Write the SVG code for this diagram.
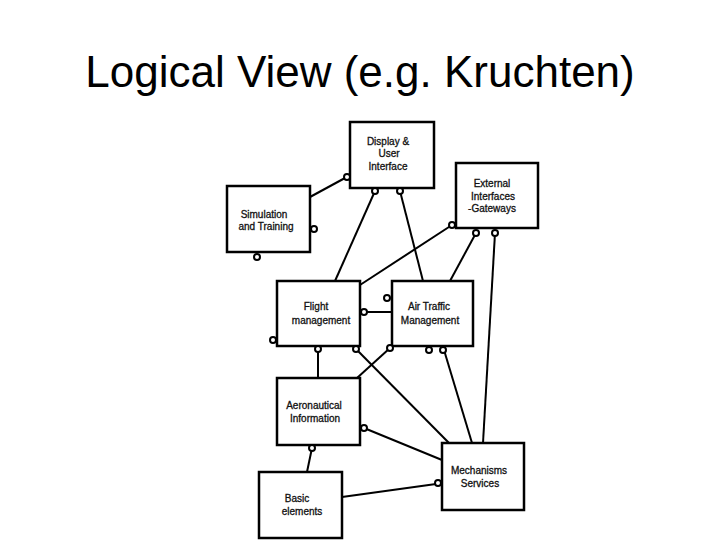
<svg xmlns="http://www.w3.org/2000/svg" width="720" height="540" viewBox="0 0 720 540">
<style>
.box{fill:#fff;stroke:#000;stroke-width:2.5}
.ln{stroke:#000;stroke-width:2;fill:none}
.pt{fill:#fff;stroke:#000;stroke-width:2}
.lbl{font-family:"Liberation Sans",Arial,sans-serif;font-size:10px;fill:#111;stroke:#111;stroke-width:0.3;text-anchor:middle}
.title{font-family:"Liberation Sans",Arial,sans-serif;font-size:44px;fill:#000;text-anchor:middle}
</style>
<rect width="720" height="540" fill="#fff"/>
<text class="title" x="360" y="87">Logical View (e.g. Kruchten)</text>
<g id="connectors">
<line class="ln" x1="310" y1="197" x2="345" y2="178"/>
<line class="ln" x1="375" y1="191" x2="335" y2="281"/>
<line class="ln" x1="400" y1="191" x2="423" y2="281"/>
<line class="ln" x1="452" y1="225" x2="360" y2="285"/>
<line class="ln" x1="476" y1="233" x2="450" y2="281"/>
<line class="ln" x1="495" y1="233" x2="483" y2="443"/>
<line class="ln" x1="364" y1="312" x2="392" y2="312"/>
<line class="ln" x1="318" y1="349" x2="318" y2="378"/>
<line class="ln" x1="356" y1="349" x2="449" y2="443"/>
<line class="ln" x1="390" y1="348" x2="357" y2="378"/>
<line class="ln" x1="444" y1="350" x2="472" y2="443"/>
<line class="ln" x1="364" y1="428" x2="442" y2="460"/>
<line class="ln" x1="312" y1="448" x2="307" y2="472"/>
<line class="ln" x1="342" y1="497" x2="436" y2="484"/>
</g>
<g id="display">
<rect class="box" x="350" y="122" width="84" height="66"/>
<text class="lbl" x="388" y="145">Display &amp;</text>
<text class="lbl" x="389" y="157">User</text>
<text class="lbl" x="388" y="170">Interface</text>
<circle class="pt" cx="347" cy="177" r="3"/>
<circle class="pt" cx="375" cy="191" r="3"/>
<circle class="pt" cx="400" cy="191" r="3"/>
</g>
<g id="external">
<rect class="box" x="456" y="163" width="82" height="65"/>
<text class="lbl" x="492" y="187">External</text>
<text class="lbl" x="493" y="200">Interfaces</text>
<text class="lbl" x="492" y="212">-Gateways</text>
<circle class="pt" cx="452" cy="225" r="3"/>
<circle class="pt" cx="476" cy="233" r="3"/>
<circle class="pt" cx="495" cy="233" r="3"/>
</g>
<g id="simulation">
<rect class="box" x="227" y="186" width="83" height="66"/>
<text class="lbl" x="264" y="218">Simulation</text>
<text class="lbl" x="266" y="230">and Training</text>
<circle class="pt" cx="314" cy="229" r="3"/>
<circle class="pt" cx="257" cy="257" r="3"/>
</g>
<g id="flight">
<rect class="box" x="277" y="281" width="83" height="65"/>
<text class="lbl" x="316" y="310">Flight</text>
<text class="lbl" x="321" y="324">management</text>
<circle class="pt" cx="364" cy="312" r="3"/>
<circle class="pt" cx="273" cy="340" r="3"/>
<circle class="pt" cx="318" cy="349" r="3"/>
<circle class="pt" cx="356" cy="349" r="3"/>
</g>
<g id="airtraffic">
<rect class="box" x="392" y="281" width="81" height="65"/>
<text class="lbl" x="429" y="310">Air Traffic</text>
<text class="lbl" x="430" y="324">Management</text>
<circle class="pt" cx="387" cy="298" r="3"/>
<circle class="pt" cx="390" cy="348" r="3"/>
<circle class="pt" cx="429" cy="350" r="3"/>
<circle class="pt" cx="443" cy="350" r="3"/>
</g>
<g id="aeronautical">
<rect class="box" x="277" y="378" width="83" height="67"/>
<text class="lbl" x="314" y="409">Aeronautical</text>
<text class="lbl" x="315" y="422">Information</text>
<circle class="pt" cx="364" cy="428" r="3"/>
<circle class="pt" cx="312" cy="448" r="3"/>
</g>
<g id="mechanisms">
<rect class="box" x="442" y="443" width="82" height="67"/>
<text class="lbl" x="479" y="474">Mechanisms</text>
<text class="lbl" x="480" y="487">Services</text>
<circle class="pt" cx="438" cy="483" r="3"/>
</g>
<g id="basic">
<rect class="box" x="259" y="472" width="83" height="66"/>
<text class="lbl" x="297" y="502">Basic</text>
<text class="lbl" x="302" y="515">elements</text>
</g>
</svg>
